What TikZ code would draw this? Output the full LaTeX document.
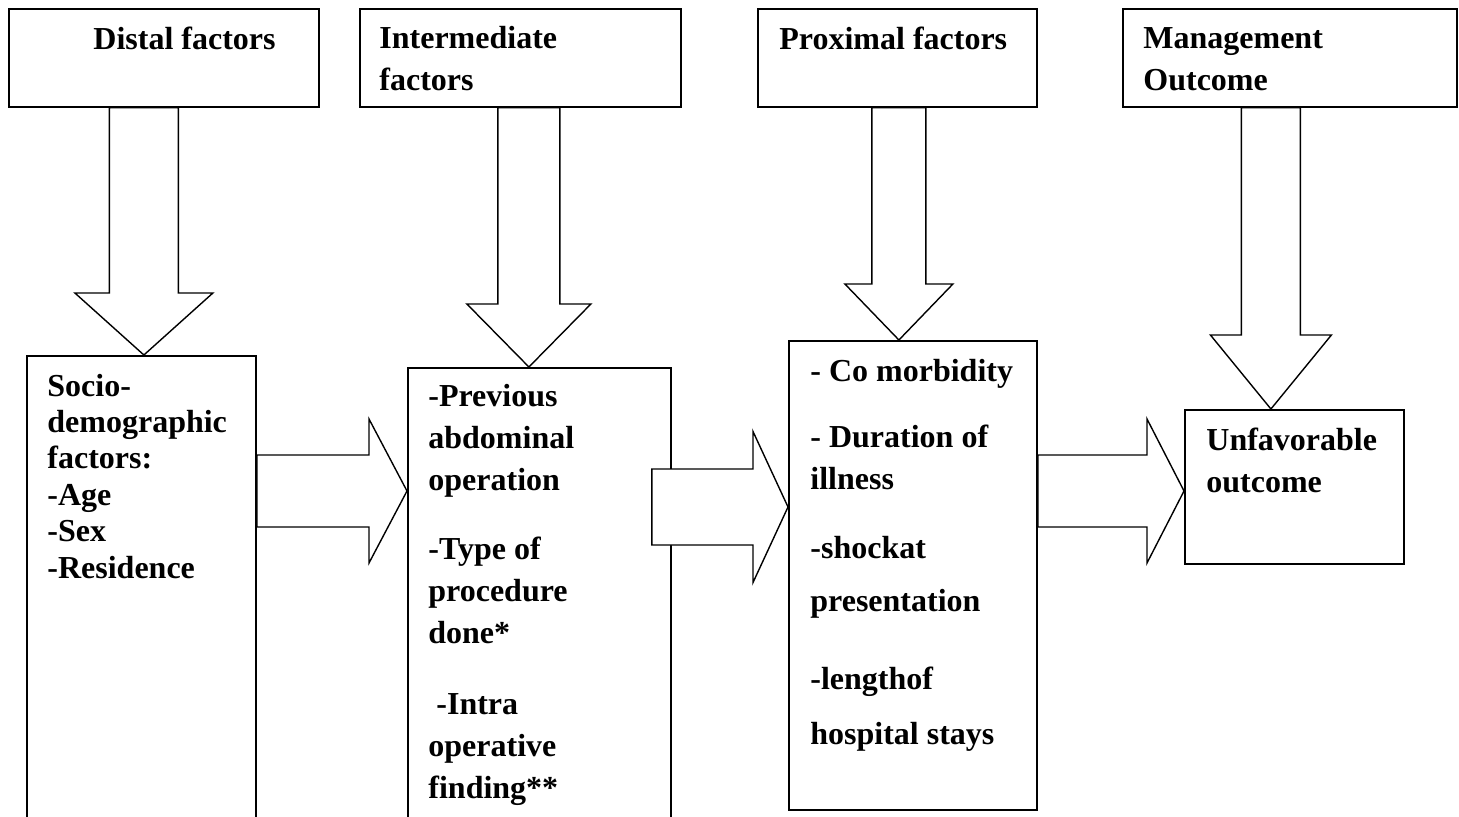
\documentclass[tikz,border=0pt]{standalone}
\usepackage{fontspec}
\setmainfont{Liberation Serif}
\usetikzlibrary{positioning, calc}

% #1 source, #2 target, #3 tip shift, #4 shaft half width, #5 head half width, #6 head length
\newcommand{\downblock}[6]{%
  \coordinate (tip) at ($(#2.north)+(#3,0)$);
  \draw[blockarr] ($(#1.south -| tip)+(-#4,0)$) -- ($(tip)+(-#4,-#6)$) -- ($(tip)+(-#5,-#6)$) -- (tip)
    -- ($(tip)+(#5,-#6)$) -- ($(tip)+(#4,-#6)$) -- ($(#1.south -| tip)+(#4,0)$) -- cycle;}
% #1 source, #2 target, #3 row, #4 shaft half width, #5 head half width, #6 head length, #7 tail shift
\newcommand{\sideblock}[7]{%
  \coordinate (tail) at ($(#1.east |- 0,#3)+(#7,0)$);
  \coordinate (tip) at (#2.west |- 0,#3);
  \draw[blockarr] ($(tail)+(0,-#4)$) -- ($(tip)+(-#6,-#4)$) -- ($(tip)+(-#6,-#5)$) -- (tip)
    -- ($(tip)+(-#6,#5)$) -- ($(tip)+(-#6,#4)$) -- ($(tail)+(0,#4)$) -- cycle;}

\begin{document}
\begin{tikzpicture}[
  x=0.5pt, y=-0.5pt,
  box/.style      = {draw, line width=0.9pt, anchor=north west, inner sep=0pt},
  txt/.style      = {anchor=base west, align=left, inner sep=0pt,
                     font=\fontsize{16}{21}\selectfont\bfseries},
  blockarr/.style = {draw, fill=white, line width=0.7pt, line join=miter}
]
\useasboundingbox (0,0) rectangle (1459,817);

\node[box, minimum width=155pt,   minimum height=49pt]    (distal)    at (8,8)      {};
\node[box, minimum width=160.5pt, minimum height=49pt]    (intertop)  at (359,8)    {};
\node[box, minimum width=139.5pt, minimum height=49pt]    (proxtop)   at (757,8)    {};
\node[box, minimum width=167pt,   minimum height=49pt]    (mgmt)      at (1122,8)   {};
\node[box, minimum width=114.5pt, minimum height=237.5pt] (socio)     at (26,355)   {};
\node[box, minimum width=131.5pt, minimum height=231.5pt] (interlist) at (407,367)  {};
\node[box, minimum width=124pt,   minimum height=234.5pt] (proxlist)  at (788,340)  {};
\node[box, minimum width=109.5pt, minimum height=77pt]    (unfav)     at (1184,409) {};

\node[txt] (distal-t)   at (93,50)   {Distal factors};
\node[txt] (intertop-t) at (379,91)  {Intermediate\\factors};
\node[txt] (proxtop-t)  at (779,50)  {Proximal factors};
\node[txt] (mgmt-t)     at (1143,91) {Management\\Outcome};
\node[txt, font=\fontsize{16}{18.2}\selectfont\bfseries] (socio-t) at (47,578)
  {Socio-\\demographic\\factors:\\-Age\\-Sex\\-Residence};
\node[txt] (interlist-t) at (428,798)
  {-Previous\\abdominal\\operation\\[13.5pt]-Type of\\procedure\\done*\\[14.5pt]~-Intra\\operative\\finding**};
\node[txt] (proxlist-t) at (810,744)
  {- Co morbidity\\[12pt]- Duration of\\illness\\[13.5pt]-shockat\\[5.5pt]presentation\\[18pt]-lengthof\\[6.5pt]hospital stays};
\node[txt] (unfav-t) at (1206,492) {Unfavorable\\outcome};

\downblock{distal}{socio}{2.5}{34.5}{69}{62}
\downblock{intertop}{interlist}{-10.5}{31}{62}{63}
\downblock{proxtop}{proxlist}{-14}{27}{54}{56}
\downblock{mgmt}{unfav}{-23.5}{29.5}{60.5}{74}
\sideblock{socio}{interlist}{491}{36}{72}{38}{0}
\sideblock{interlist}{proxlist}{507}{38}{75.5}{35}{-20}
\sideblock{proxlist}{unfav}{491}{36}{72}{37}{0}
\end{tikzpicture}
\end{document}
